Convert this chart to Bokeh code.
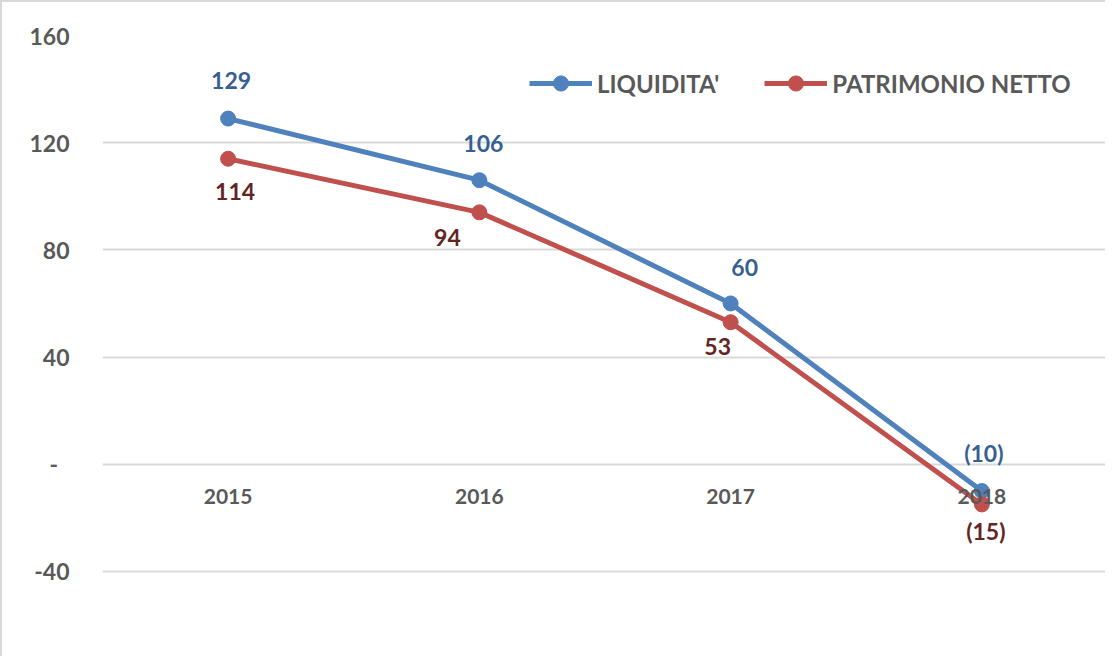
from bokeh.plotting import figure
from bokeh.models import FixedTicker, ColumnDataSource, FactorRange, Range1d, Legend, LegendItem
from bokeh.core.properties import value
from bokeh.embed import file_html
from bokeh.resources import INLINE

years = ["2015", "2016", "2017", "2018"]
liquidita = [129, 106, 60, -10]
patrimonio = [114, 94, 53, -15]
y_ticks = [-40, 0, 40, 80, 120, 160]
y_tick_labels = {-40: "-40", 0: "-\u2002", 40: "40", 80: "80", 120: "120", 160: "160"}

# label placement tweaks (screen px, positive = up / right)
liq_dx = [3, 4, 14, 2]
liq_dy = [38, 37, 36, 38]
pat_dx = [7, -32, -13, 4]
pat_dy = [-33, -25, -24, -27]

def fmt(v):
    return f"({abs(v)})" if v < 0 else str(v)

FONT = "Lato"
GRAY = "#595959"
BLUE = "#4f81bd"
RED = "#c0504d"

p = figure(width=1105, height=656, output_backend="svg", toolbar_location=None,
           x_range=FactorRange(*years, range_padding=0),
           y_range=Range1d(-72.5, 160),
           min_border_left=100, min_border_top=33, min_border_bottom=0, min_border_right=0)
p.styles = {"border-left": "2px solid #d9d9d9", "border-top": "2px solid #d9d9d9"}
p.outline_line_color = None
p.background_fill_color = "white"
p.border_fill_color = "white"

src_l = ColumnDataSource(dict(x=years, y=liquidita, t=[fmt(v) for v in liquidita],
                              dx=liq_dx, dy=[-d for d in liq_dy]))
src_p = ColumnDataSource(dict(x=years, y=patrimonio, t=[fmt(v) for v in patrimonio],
                              dx=pat_dx, dy=[-d for d in pat_dy]))

l1 = p.line("x", "y", source=src_l, line_color=BLUE, line_width=5)
c1 = p.scatter("x", "y", source=src_l, size=15, fill_color=BLUE, line_color=BLUE)
l2 = p.line("x", "y", source=src_p, line_color=RED, line_width=5)
c2 = p.scatter("x", "y", source=src_p, size=15, fill_color=RED, line_color=RED)

p.text("x", "y", text="t", source=src_l, x_offset="dx", y_offset="dy",
       text_font=value(FONT), text_font_style="bold", text_font_size="23px",
       text_color="#376092", text_align="center", text_baseline="middle")
p.text("x", "y", text="t", source=src_p, x_offset="dx", y_offset="dy",
       text_font=value(FONT), text_font_style="bold", text_font_size="23px",
       text_color="#632523", text_align="center", text_baseline="middle")

p.xgrid.visible = False
p.yaxis.ticker = FixedTicker(ticks=y_ticks)
p.ygrid.ticker = FixedTicker(ticks=y_ticks)
p.ygrid.grid_line_color = "#d9d9d9"
p.ygrid.grid_line_width = 2
p.yaxis.major_label_overrides = y_tick_labels
p.yaxis.axis_line_color = None
p.yaxis.major_tick_line_color = None
p.yaxis.minor_tick_line_color = None
p.yaxis.major_label_standoff = 27
p.yaxis.major_label_text_font = FONT
p.yaxis.major_label_text_font_style = "bold"
p.yaxis.major_label_text_font_size = "23px"
p.yaxis.major_label_text_color = GRAY

p.xaxis.fixed_location = 0
p.xaxis.level = "overlay"
p.xaxis.axis_line_color = None
p.xaxis.major_tick_line_color = None
p.xaxis.minor_tick_line_color = None
p.xaxis.major_label_standoff = 19
p.xaxis.major_label_text_font = FONT
p.xaxis.major_label_text_font_style = "bold"
p.xaxis.major_label_text_font_size = "21px"
p.xaxis.major_label_text_color = GRAY

legend = Legend(items=[LegendItem(label="LIQUIDITA'", renderers=[l1, c1]),
                       LegendItem(label="PATRIMONIO NETTO", renderers=[l2, c2])],
                orientation="horizontal", location=(427, 556),
                glyph_width=63, glyph_height=38, label_standoff=5, spacing=45,
                padding=0, margin=0, border_line_color=None, background_fill_alpha=0,
                label_text_font=FONT, label_text_font_style="bold",
                label_text_font_size="24px", label_text_color=GRAY)
p.add_layout(legend)

open("out.html", "w").write(file_html(p, INLINE))
